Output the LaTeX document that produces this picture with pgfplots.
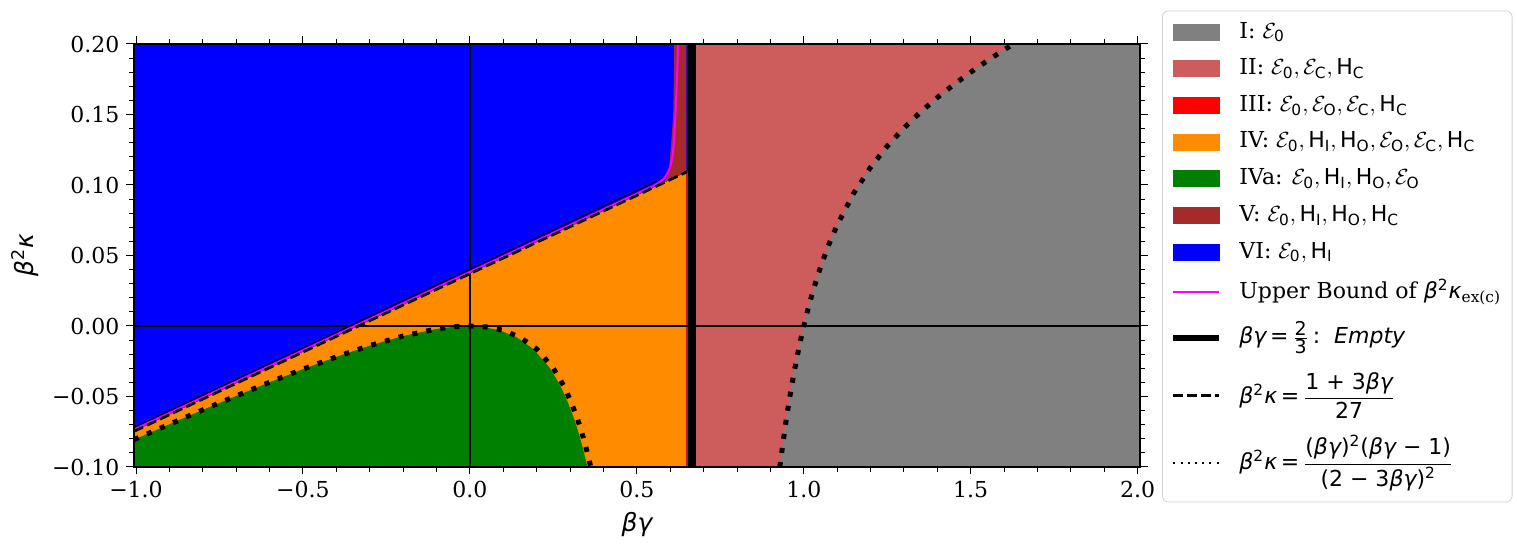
\documentclass[border=0pt]{standalone}
\usepackage{amsmath}
\usepackage{fontspec}
\setmainfont{DejaVu Serif}
\newfontfamily\dvs{DejaVu Sans}
\usepackage{pgfplots}
\pgfplotsset{compat=1.18}
\definecolor{cgray}{RGB}{128,128,128}
\definecolor{cindian}{RGB}{205,92,92}
\definecolor{cred}{RGB}{255,0,0}
\definecolor{corange}{RGB}{255,140,0}
\definecolor{cgreen}{RGB}{0,128,0}
\definecolor{cbrown}{RGB}{165,42,42}
\definecolor{cblue}{RGB}{0,0,255}
\definecolor{cmag}{RGB}{255,0,255}
\newcommand{\gi}[1]{{\dvs\itshape #1}}
\newcommand{\E}[1]{\mathcal{E}_{\text{\dvs #1}}}
\newcommand{\Hs}[1]{\text{\dvs H}_{\text{\dvs #1}}}
\newcommand{\fs}{\fontsize{9.5}{10}\selectfont\dvs}
\pgfplotsset{
  boxleg/.style={legend image code/.code={\fill[sharp corners,#1] (0pt,-4pt) rectangle (23pt,4pt);}},
  linleg/.style={legend image code/.code={\draw[sharp corners,#1] (0pt,0pt) -- (23pt,0pt);}},
}
\begin{document}
\begin{tikzpicture}
\begin{axis}[
  at={(0,0)}, anchor=south west,
  scale only axis, width=503pt, height=211.5pt,
  xmin=-1.006, xmax=2.007, ymin=-0.1, ymax=0.2,
  axis on top,
  xtick={-1,-0.5,0,0.5,1,1.5,2},
  xticklabels={−1.0,−0.5,0.0,0.5,1.0,1.5,2.0},
  ytick={-0.1,-0.05,0,0.05,0.1,0.15,0.2},
  yticklabels={−0.10,−0.05,0.00,0.05,0.10,0.15,0.20},
  minor x tick num=4, minor y tick num=4,
  tick align=outside,
  major tick length=3.75pt, minor tick length=2.5pt,
  tick style={black, line width=0.5pt},
  axis line style={line width=0.6pt},
  tick label style={font=\fontsize{11}{13}\selectfont},
  xlabel={\gi{βγ}},
  ylabel={\gi{β}$^{\text{\dvs 2}}$\gi{κ}},
  label style={font=\fontsize{12.5}{15}\selectfont},
  legend cell align=left,
  legend style={at={(1.0219,1.079)}, anchor=north west, draw=black!18, rounded corners=3pt,
    fill=white, font=\fontsize{11}{13}\selectfont, inner xsep=4pt, inner ysep=4pt,
    row sep=5.2pt, nodes={inner sep=1.5pt, text depth=},
    /tikz/every odd column/.append style={column sep=7pt}},
]
% blue background (VI)
\addplot[fill=cblue, draw=none, forget plot] coordinates {(-1.006,-0.1) (0.655,-0.1) (0.655,0.2) (-1.006,0.2)} -- cycle;
% indianred (II)
\addplot[fill=cindian, draw=none, forget plot] coordinates {(0.6667,-0.1) (2.007,-0.1) (2.007,0.2) (0.6667,0.2)} -- cycle;
% gray (I)
\addplot[fill=cgray, draw=none, forget plot] coordinates {
(0.928,-0.1) (0.93,-0.0970) (0.935,-0.0877) (0.94,-0.0789) (0.945,-0.0705) (0.95,-0.0625)
(0.955,-0.0549) (0.96,-0.0476) (0.97,-0.0341) (0.98,-0.0217) (0.99,-0.0104) (1.0,0)
(1.01,0.0096) (1.02,0.0185) (1.03,0.0268) (1.05,0.0417) (1.075,0.0578) (1.1,0.0716)
(1.15,0.0944) (1.2,0.1125) (1.25,0.1276) (1.3,0.1404) (1.35,0.1518) (1.4,0.1620)
(1.45,0.1713) (1.5,0.18) (1.55,0.1882) (1.6,0.1959) (1.628,0.2) (2.007,0.2) (2.007,-0.1)} -- cycle;
% orange (IV)
\addplot[fill=corange, draw=none, forget plot] coordinates {(-1.006,-0.1) (-1.006,-0.0747) (0.648,0.1091) (0.648,-0.1)} -- cycle;
% red strip (III)
\addplot[fill=cred, draw=none, forget plot] coordinates {(0.648,-0.1) (0.655,-0.1) (0.655,0.1093) (0.648,0.1091)} -- cycle;
% green (IVa)
\addplot[fill=cgreen, draw=none, forget plot] coordinates {
(-1.006,-0.1) (-1.006,-0.0806) (-0.9,-0.0697) (-0.8,-0.0595) (-0.7,-0.0496) (-0.6,-0.0399)
(-0.5,-0.0306) (-0.4,-0.0219) (-0.3,-0.0139) (-0.2,-0.0071) (-0.1,-0.0021) (-0.05,-0.0006)
(-0.01,-0.0001) (0.04,-0.0007) (0.09,-0.0031) (0.14,-0.0080) (0.19,-0.0163) (0.24,-0.0300)
(0.27,-0.0420) (0.29,-0.0521) (0.31,-0.0644) (0.32,-0.0715) (0.33,-0.0794) (0.34,-0.0882)
(0.345,-0.0930) (0.35,-0.0980) (0.352,-0.1)} -- cycle;
% brown (V)
\addplot[fill=cbrown, draw=none, forget plot] coordinates {
(0.58,0.1015) (0.59,0.1050) (0.597,0.1130) (0.602,0.1270) (0.606,0.1400) (0.609,0.1510)
(0.611,0.1745) (0.612,0.2) (0.648,0.2) (0.648,0.1091)} -- cycle;
% zero lines
\addplot[black, line width=0.7pt, forget plot] coordinates {(0,-0.1) (0,0.2)};
\addplot[black, line width=0.7pt, forget plot] coordinates {(-1.006,0) (2.007,0)};
% thin black boundary
\addplot[black, line width=0.6pt, forget plot] coordinates {(-1.006,-0.0720) (0.56,0.1027)};
% magenta upper bound
\addplot[cmag, line width=1pt, forget plot] coordinates {
(-1.006,-0.0735) (0.55,0.0994) (0.565,0.1015) (0.582,0.1047) (0.592,0.1085) (0.600,0.1130)
(0.606,0.1190) (0.610,0.1270) (0.613,0.1380) (0.616,0.1510) (0.620,0.1745) (0.624,0.2)};
% dashed line
\addplot[black, line width=1.35pt, dash pattern=on 5pt off 2.2pt, forget plot] coordinates {(-1.006,-0.0747) (0.65,0.1093)};
% dotted curves
\addplot[black, line width=2.5pt, dash pattern=on 2.5pt off 4.6pt, forget plot] coordinates {
(-1.006,-0.0806) (-0.9,-0.0697) (-0.8,-0.0595) (-0.7,-0.0496) (-0.6,-0.0399) (-0.5,-0.0306)
(-0.4,-0.0219) (-0.3,-0.0139) (-0.2,-0.0071) (-0.1,-0.0021) (-0.05,-0.00057) (0,0)
(0.05,-0.00069) (0.1,-0.0031) (0.15,-0.0080) (0.2,-0.0163) (0.25,-0.0300) (0.28,-0.0420)
(0.3,-0.0521) (0.32,-0.0644) (0.33,-0.0715) (0.34,-0.0794) (0.35,-0.0882) (0.355,-0.0930)
(0.36,-0.0980) (0.362,-0.1001)};
\addplot[black, line width=2.5pt, dash pattern=on 2.5pt off 4.6pt, forget plot] coordinates {
(0.928,-0.1) (0.93,-0.0970) (0.935,-0.0877) (0.94,-0.0789) (0.945,-0.0705) (0.95,-0.0625)
(0.955,-0.0549) (0.96,-0.0476) (0.97,-0.0341) (0.98,-0.0217) (0.99,-0.0104) (1.0,0)
(1.01,0.0096) (1.02,0.0185) (1.03,0.0268) (1.05,0.0417) (1.075,0.0578) (1.1,0.0716)
(1.15,0.0944) (1.2,0.1125) (1.25,0.1276) (1.3,0.1404) (1.35,0.1518) (1.4,0.1620)
(1.45,0.1713) (1.5,0.18) (1.55,0.1882) (1.6,0.1959) (1.628,0.2)};
% thick vertical line at 2/3
\addplot[black, line width=4pt, forget plot] coordinates {(0.6667,-0.1) (0.6667,0.2)};
% legend
\addlegendimage{boxleg=cgray}
\addlegendentry{I: $\E{0}$}
\addlegendimage{boxleg=cindian}
\addlegendentry{II: $\E{0}, \E{C}, \Hs{C}$}
\addlegendimage{boxleg=cred}
\addlegendentry{III: $\E{0}, \E{O}, \E{C}, \Hs{C}$}
\addlegendimage{boxleg=corange}
\addlegendentry{IV: $\E{0}, \Hs{I}, \Hs{O}, \E{O}, \E{C}, \Hs{C}$}
\addlegendimage{boxleg=cgreen}
\addlegendentry{IVa: $\E{0}, \Hs{I}, \Hs{O}, \E{O}$}
\addlegendimage{boxleg=cbrown}
\addlegendentry{V: $\E{0}, \Hs{I}, \Hs{O}, \Hs{C}$}
\addlegendimage{boxleg=cblue}
\addlegendentry{VI: $\E{0}, \Hs{I}$}
\addlegendimage{linleg={cmag, line width=1pt}}
\addlegendentry{Upper Bound of \gi{β}$^{\text{\dvs 2}}$\gi{κ}$_{\text{ex(c)}}$}
\addlegendimage{linleg={black, line width=3pt}}
\addlegendentry{\rule[-6pt]{0pt}{16.6pt}\gi{βγ}\,{\dvs =}\,$\frac{\text{\fs 2}}{\text{\fs 3}}$\,{\dvs :}\ \ \gi{Empty}}
\addlegendimage{linleg={black, line width=1.35pt, dash pattern=on 5pt off 2pt}}
\addlegendentry{\gi{β}$^{\text{\dvs 2}}$\gi{κ}\,{\dvs =}\,$\dfrac{\text{\dvs 1 + 3\gi{βγ}}}{\text{\dvs 27}}$}
\addlegendimage{linleg={black, line width=1pt, dash pattern=on 1pt off 2.6pt}}
\addlegendentry{\gi{β}$^{\text{\dvs 2}}$\gi{κ}\,{\dvs =}\,$\dfrac{\text{\dvs (\gi{βγ})$^{\text{2}}$(\gi{βγ} − 1)}}{\text{\dvs (2 − 3\gi{βγ})$^{\text{2}}$}}$}
\end{axis}
\pgfresetboundingbox
\path[use as bounding box] (-67pt,-41.5pt) rectangle (691.5pt,233.5pt);
\end{tikzpicture}
\end{document}
